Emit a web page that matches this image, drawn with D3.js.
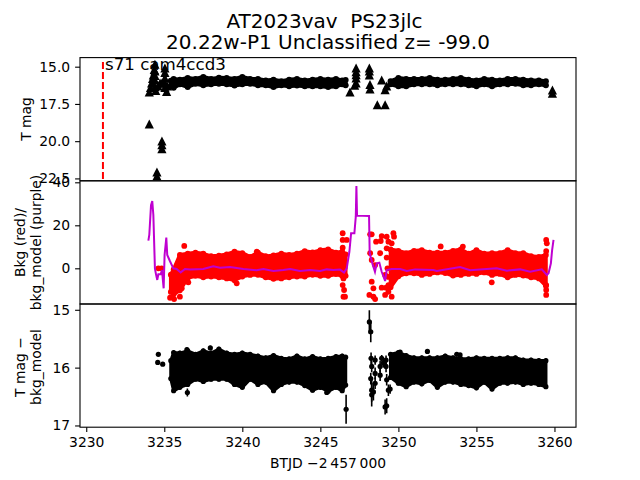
<!DOCTYPE html>
<html>
<head>
<meta charset="utf-8">
<script src="https://cdn.jsdelivr.net/npm/d3@7"></script>
<style>
  html, body { margin: 0; background: #fff; }
  svg { display: block; }
  text { font-family: "DejaVu Sans", sans-serif; fill: #000; }
</style>
</head>
<body>
<script>
// band times, left and right of the gap
const tLeft = [3235.42, 3235.6, 3236, 3236.5, 3237, 3237.5, 3238, 3238.5, 3239, 3239.5, 3240, 3240.5, 3241, 3241.5, 3242, 3242.5, 3243, 3243.5, 3244, 3244.5, 3245, 3245.5, 3246, 3246.4, 3246.62]
const tRight = [3249.5, 3250, 3250.5, 3251, 3251.5, 3252, 3252.5, 3253, 3253.5, 3254, 3254.5, 3255, 3255.5, 3256, 3256.5, 3257, 3257.5, 3258, 3258.5, 3259, 3259.45]

// T mag band
const magHiL = [15.95, 15.83, 15.87, 15.76, 15.83, 15.69, 15.83, 15.74, 15.76, 15.83, 15.69, 15.83, 15.83, 15.92, 15.87, 15.98, 15.87, 15.83, 15.92, 15.87, 15.83, 15.87, 15.83, 15.92, 15.9]
const magLoL = [16.3, 16.41, 16.18, 16.36, 16.14, 16.25, 16.18, 16.14, 16.18, 16.27, 16.18, 16.14, 16.25, 16.25, 16.36, 16.25, 16.32, 16.27, 16.32, 16.32, 16.32, 16.36, 16.32, 16.18, 16.25]
const magHiR = [15.98, 15.76, 15.83, 15.83, 15.83, 15.76, 15.87, 15.87, 15.83, 15.76, 15.87, 15.92, 15.83, 15.87, 15.92, 15.83, 15.83, 15.87, 15.92, 15.92, 15.98]
const magLoR = [16.18, 16.32, 16.32, 16.18, 16.18, 16.18, 16.25, 16.18, 16.18, 16.18, 16.25, 16.32, 16.18, 16.32, 16.18, 16.18, 16.14, 16.25, 16.25, 16.18, 16.25]
const magTriangles = [[3234.04, 16.7], [3234.04, 18.85], [3234.12, 16.4], [3234.19, 16.1], [3234.25, 15.8], [3234.3, 15.56], [3234.36, 15.2], [3234.4, 14.85], [3234.4, 15.3], [3234.4, 15.6], [3234.4, 15.9], [3234.4, 16.36], [3234.45, 16.6],
  [3234.53, 22.07], [3234.53, 22.34], [3234.6, 16.3], [3234.73, 16.1], [3234.85, 20], [3234.85, 20.25], [3234.85, 20.52], [3234.85, 16.1], [3235.04, 15.1], [3235.04, 15.4], [3235.04, 15.77], [3235.04, 16.1], [3235.04, 16.4], [3235.15, 16.68], [3235.2, 16.3],
  [3246.9, 16.7], [3247.29, 15.1], [3247.29, 15.34], [3247.29, 15.55], [3247.29, 15.77], [3247.29, 16.1], [3247.2, 16.25], [3248.14, 15.1], [3248.14, 15.3], [3248.14, 15.56], [3248.18, 16.5], [3248.18, 16.2],
  [3248.65, 17.57], [3248.93, 15.9], [3249.15, 17.57], [3249.15, 16.56], [3249.25, 16.3], [3259.87, 16.57], [3259.87, 16.79]]

// Bkg band
const bkgHiL = [-3, -0.5, 6.2, 6.8, 7.3, 6.8, 5.6, 5.9, 6.5, 7.7, 7.1, 5.3, 7.3, 5.6, 6.0, 6.8, 6.2, 6.8, 8.0, 7.4, 8.4, 8.8, 7.3, 7.7, 6.5]
const bkgLoL = [-11, -12.1, -10.2, -4.5, -3.5, -4.2, -3.8, -4.2, -4.7, -5.5, -3.8, -3.1, -3.0, -4.2, -4.9, -4.7, -4.2, -3.8, -3.8, -3.0, -3.5, -3.5, -2.7, -3.5, -3.5]
const bkgHiR = [8.8, 8.1, 7.1, 8.1, 8.4, 7.3, 7.3, 7.3, 8.1, 8.8, 6.8, 8.4, 6.8, 7.1, 7.1, 8.4, 7.1, 7.1, 5.6, 5.3, 6.2]
const bkgLoR = [-8.8, -3.7, -2.3, -2.3, -3.1, -2.6, -1.9, -2.2, -3.4, -3.1, -2.6, -2.6, -1.9, -3.1, -2.6, -4.2, -3.1, -3.4, -4.2, -4.7, -8.1]
const bkgDots = [[3234.62, 0], [3234.83, 0], [3236.28, 10.4], [3239.64, -7], [3240.92, 7.7], [3236.12, -9.3], [3236.54, -6.5], [3235.37, -13.7], [3235.63, -14.3], [3236, -13.2],
  [3246.43, 16.3], [3246.43, 13.2], [3246.69, 13.2], [3246.43, 9.6], [3246.48, -4.7], [3246.43, -7.8], [3246.52, -10.1], [3246.48, -13.2], [3246.58, -13.2],
  [3248.19, 15.8], [3248.29, 15.8], [3248.57, 12.4], [3248.87, 12.7], [3248.93, 15], [3249.25, 14.7], [3249.68, 16.3], [3249.72, 14.7], [3249.36, 12.4], [3249.57, 11.6],
  [3248.19, 7], [3248.83, 7], [3248.29, 3.9], [3248.51, 1.5], [3248.29, -6.2], [3248.4, -9.3], [3248.14, -12.4], [3248.51, -14.3], [3248.4, -13.2], [3248.93, -9],
  [3249.21, -9], [3249.36, -10.9], [3249.57, -13.2], [3249.15, -3.1], [3249.36, -7.8], [3249.15, -12.4], [3249.25, 9.3], [3249.25, 5], [3249.3, 0], [3249.36, -4],
  [3259.47, 13.2], [3259.51, 11.6], [3259.47, 8], [3259.47, -7.8], [3259.47, -10.1], [3259.47, -12.4], [3255.98, -6.5], [3252.71, 10.2], [3254.13, 10.1]]

// purple background model
const modelT = [3233.98, 3234.04, 3234.15, 3234.23, 3234.3, 3234.4, 3234.47, 3234.55, 3234.62, 3234.77, 3234.85, 3234.96, 3235.02, 3235.13, 3235.19, 3235.36, 3235.58, 3235.79, 3236.05, 3236.33, 3236.65, 3237.5, 3238.14, 3238.57, 3239.21, 3240.07, 3240.92, 3241.35, 3241.99, 3242.63, 3243.06, 3243.7, 3244.34, 3244.98, 3245.41, 3245.83, 3246.26, 3246.52, 3246.69, 3246.86, 3246.97, 3247.18, 3247.27, 3247.31, 3247.35, 3248.12, 3248.16, 3248.33, 3248.5, 3248.61, 3248.78, 3248.93, 3249.15, 3249.25, 3249.57, 3250.11, 3250.54, 3251.07, 3252.24, 3252.46, 3253.95, 3254.6, 3256.3, 3256.95, 3257.8, 3258.44, 3259.19, 3259.51, 3259.62, 3259.77, 3259.85, 3259.94]
const modelV = [12.9, 15.5, 29.4, 31.3, 24.8, 0, -2.8, -5.4, -2.8, -2.8, -0.8, -9.3, 6.2, 14.3, 6.2, 3.4, 0, -0.3, -1.9, -0.3, -0.5, -0.3, 0.9, 0.3, 0.6, -0.3, -0.9, -0.3, -1.2, -0.8, -0.3, -1.2, -0.8, -1.2, -0.5, -0.8, -0.6, -2, 0, 7.7, 16.3, 16.3, 24, 38.3, 24.5, 24.3, 7, 2.3, -1.6, 2.3, 2.6, -1.6, -5.9, -0.8, -0.3, -0.3, -1.2, -0.5, -0.8, -1.2, 0.6, -0.9, 0, -1.1, -0.5, -1.6, -0.5, -3.1, -2.3, 2.3, 8.5, 13.2]

// T mag - bkg_model band
const subHiL = [15.88, 15.74, 15.75, 15.71, 15.77, 15.71, 15.75, 15.68, 15.75, 15.77, 15.75, 15.77, 15.8, 15.83, 15.79, 15.84, 15.85, 15.8, 15.85, 15.81, 15.85, 15.84, 15.81, 15.8, 15.82]
const subLoL = [16.19, 16.4, 16.34, 16.29, 16.2, 16.24, 16.2, 16.2, 16.2, 16.29, 16.34, 16.2, 16.29, 16.25, 16.4, 16.29, 16.25, 16.25, 16.31, 16.39, 16.34, 16.41, 16.34, 16.4, 16.3]
const subHiR = [15.77, 15.74, 15.79, 15.83, 15.83, 15.83, 15.83, 15.8, 15.83, 15.85, 15.85, 15.83, 15.84, 15.84, 15.84, 15.83, 15.83, 15.87, 15.87, 15.88, 15.88]
const subLoR = [16.17, 16.27, 16.33, 16.25, 16.28, 16.22, 16.34, 16.25, 16.25, 16.29, 16.31, 16.35, 16.25, 16.37, 16.27, 16.27, 16.25, 16.29, 16.27, 16.29, 16.33]
// t, value, error
const subDots = [[3234.62, 15.77, 0.03], [3234.58, 15.91, 0.03], [3234.9, 15.94, 0.03], [3236.48, 16.43, 0.07], [3239.47, 16.27, 0.05], [3239.9, 16.31, 0.05], [3237.95, 15.66, 0.04], [3236.45, 15.69, 0.04],
  [3245.41, 16.43, 0.03], [3246.65, 16.72, 0.25], [3248.14, 15.21, 0.2], [3248.23, 15.38, 0.18], [3249.25, 16.66, 0.13], [3249.15, 16.68, 0.13],
  [3248.25, 15.84, 0.1], [3248.29, 15.98, 0.1], [3248.23, 16.19, 0.1], [3248.29, 16.39, 0.2], [3248.29, 16.47, 0.2], [3248.4, 16.42, 0.15],
  [3248.51, 15.87, 0.08], [3248.51, 16.1, 0.1], [3248.51, 16.27, 0.1], [3248.93, 15.84, 0.06], [3248.83, 15.98, 0.1], [3248.83, 16.13, 0.1],
  [3249.04, 15.92, 0.08], [3249.21, 15.87, 0.08], [3249.25, 16.21, 0.1], [3249.36, 16.39, 0.1], [3249.47, 16.37, 0.08], [3249.21, 15.98, 0.1],
  [3250.11, 15.73, 0.03], [3251.86, 15.72, 0.03], [3253.74, 15.77, 0.03], [3253.95, 15.78, 0.03]]

const xTicks = [3230, 3235, 3240, 3245, 3250, 3255, 3260]
const magTicks = [15, 17.5, 20, 22.5]
const bkgTicks = [40, 20, 0]
const subTicks = [15, 16, 17]
const sectorT = 3231.07

let width = 640
let height = 480
let left = 80, right = 576
let tops = [57.6, 180.8, 304, 427.2]

let svg = d3.select("body").append("svg")
    .attr("width", width)
    .attr("height", height)

let x = d3.scaleLinear().domain([3229.6, 3261.38]).range([left, right])
let yMag = d3.scaleLinear().domain([14.39, 22.66]).range([tops[0], tops[1]])
let yBkg = d3.scaleLinear().domain([40.7, -16.6]).range([tops[1], tops[2]])
let ySub = d3.scaleLinear().domain([14.9, 17.03]).range([tops[2], tops[3]])

// one clipped group per axes
function panel(id, i) {
    svg.append("clipPath").attr("id", id).append("rect")
        .attr("x", left).attr("y", tops[i])
        .attr("width", right - left).attr("height", tops[i + 1] - tops[i])
    return svg.append("g").attr("clip-path", `url(#${id})`)
}

// filled envelope, slightly stroked, with dots on both edges for a lumpy outline
function band(g, y, ts, hi, lo, color, r, err) {
    let area = d3.area()
        .x((d, i) => x(ts[i]))
        .y0((d, i) => y(lo[i]))
        .y1((d, i) => y(hi[i]))
    g.append("path").datum(ts).attr("d", area)
        .attr("fill", color)
        .attr("stroke", color)
        .attr("stroke-width", 2 * r - 2)
        .attr("stroke-linejoin", "round")
    let edge = ts.map((t, i) => [t, hi[i]]).concat(ts.map((t, i) => [t, lo[i]]))
    dots(g, y, edge, color, r)
    if (err) {
        g.selectAll(null).data(edge).enter().append("line")
            .attr("x1", d => x(d[0])).attr("x2", d => x(d[0]))
            .attr("y1", d => y(d[1] - err)).attr("y2", d => y(d[1] + err))
            .attr("stroke", color).attr("stroke-width", 1.5)
    }
}

function dots(g, y, data, color, r) {
    g.selectAll(null).data(data).enter().append("circle")
        .attr("cx", d => x(d[0]))
        .attr("cy", d => y(d[1]))
        .attr("r", r)
        .attr("fill", color)
}

// top panel
let g1 = panel("clip1", 0)
band(g1, yMag, tLeft, magHiL, magLoL, "#000", 3)
band(g1, yMag, tRight, magHiR, magLoR, "#000", 3)
g1.selectAll(null).data(magTriangles).enter().append("path")
    .attr("d", "M0,-4.6L4.6,4.4L-4.6,4.4Z")
    .attr("transform", d => `translate(${x(d[0])},${yMag(d[1])})`)
    .attr("fill", "#000")
g1.append("line")
    .attr("x1", x(sectorT)).attr("x2", x(sectorT))
    .attr("y1", 62).attr("y2", tops[1])
    .attr("stroke", "#f00").attr("stroke-width", 2)
    .attr("stroke-dasharray", "7,3")
svg.append("text").attr("x", 105).attr("y", 70)
    .attr("font-size", 16.67).text("s71 cam4ccd3")

// middle panel
let g2 = panel("clip2", 1)
band(g2, yBkg, tLeft, bkgHiL, bkgLoL, "#f00", 2.9)
band(g2, yBkg, tRight, bkgHiR, bkgLoR, "#f00", 2.9)
dots(g2, yBkg, bkgDots, "#f00", 2.9)
g2.append("path")
    .datum(modelT)
    .attr("d", d3.line().x(d => x(d)).y((d, i) => yBkg(modelV[i])))
    .attr("fill", "none")
    .attr("stroke", "#bf00d0")
    .attr("stroke-width", 2)

// bottom panel
let g3 = panel("clip3", 2)
band(g3, ySub, tLeft, subHiL, subLoL, "#000", 2.6, 0.04)
band(g3, ySub, tRight, subHiR, subLoR, "#000", 2.6, 0.04)
dots(g3, ySub, subDots, "#000", 2.6)
g3.selectAll(null).data(subDots).enter().append("line")
    .attr("x1", d => x(d[0])).attr("x2", d => x(d[0]))
    .attr("y1", d => ySub(d[1] - d[2])).attr("y2", d => ySub(d[1] + d[2]))
    .attr("stroke", "#000").attr("stroke-width", 1.6)

// frames and axes
function frame(i, y, ticks, fmt) {
    svg.append("rect")
        .attr("x", left).attr("y", tops[i])
        .attr("width", right - left).attr("height", tops[i + 1] - tops[i])
        .attr("fill", "none").attr("stroke", "#000").attr("stroke-width", 1.1)
    let axis = svg.append("g")
        .attr("transform", `translate(${left},0)`)
        .call(d3.axisLeft(y).tickValues(ticks).tickFormat(fmt).tickSize(4.9).tickPadding(4.9))
    axis.select(".domain").remove()
    axis.selectAll("line").attr("stroke-width", 1.1)
    axis.selectAll("text").attr("font-size", 13.89).attr("font-family", '"DejaVu Sans"')
}
frame(0, yMag, magTicks, d3.format(".1f"))
frame(1, yBkg, bkgTicks, d3.format("d"))
frame(2, ySub, subTicks, d3.format("d"))

let xAxis = svg.append("g")
    .attr("transform", `translate(0,${tops[3]})`)
    .call(d3.axisBottom(x).tickValues(xTicks).tickFormat(d3.format("d")).tickSize(4.9).tickPadding(4.9))
xAxis.select(".domain").remove()
xAxis.selectAll("line").attr("stroke-width", 1.1)
xAxis.selectAll("text").attr("font-size", 13.89).attr("font-family", '"DejaVu Sans"')

// titles and labels
function label(lines, cx, cy, size, rotate, step) {
    let t = svg.append("text").attr("text-anchor", "middle").attr("font-size", size)
        .attr("transform", `translate(${cx},${cy})` + (rotate ? " rotate(-90)" : ""))
    lines.forEach((s, i) => {
        t.append("tspan").attr("x", 0).attr("y", i * step).text(s)
    })
}
label(["AT2023vav\u00a0\u00a0PS23jlc"], 324.5, 27.5, 20, false, 0)
label(["20.22w-P1 Unclassified z= -99.0"], 328, 49, 20, false, 0)
label(["BTJD \u22122\u2009457\u2009000"], 328, 468, 13.89, false, 0)
label(["T mag"], 31, 119, 13.89, true, 0)
label(["Bkg (red)/", "bkg_model (purple)"], 25, 242.5, 13.89, true, 16.2)
label(["T mag \u2212", "bkg_model"], 25, 367, 13.89, true, 16.2)
</script>
</body>
</html>
